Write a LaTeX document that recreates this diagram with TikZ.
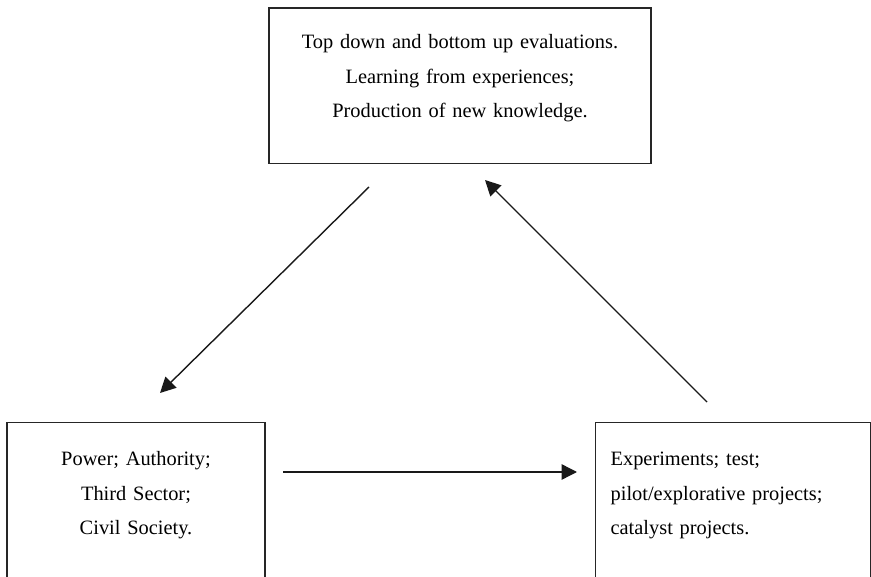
\documentclass[tikz,border=0pt]{standalone}
\usepackage{fontspec}
\setmainfont{Liberation Serif}
\usetikzlibrary{arrows.meta, positioning, calc}

\begin{document}
\begin{tikzpicture}[
        x=0.025cm, y=-0.025cm,
        box/.style={rectangle, draw=black!85, line width=0.9pt, inner ysep=0pt, font=\fontsize{14.5}{24.5}\selectfont},
        arrow/.style={-{Triangle[length=11pt, width=11pt]}, line width=1pt, black!90}
    ]
        \clip (0,0) rectangle (871,577);

        % upper box
        \node[box, anchor=north, align=center, inner xsep=0pt, text width=9.55cm,
              text height=1.0125cm, text depth=2.875cm] (eval) at (460,7.5)
            {Top down and bottom up evaluations.\\Learning from experiences;\\Production of new knowledge.};

        % lower boxes (cut by the page edge)
        \node[box, anchor=north, align=center, inner xsep=0pt, text width=6.45cm,
              text height=1.075cm, text depth=3.8cm] (power) at (136,422)
            {Power; Authority;\\Third Sector;\\Civil Society.};
        \node[box, anchor=north west, align=left, inner xsep=0.375cm, text width=6.125cm,
              text height=1.075cm, text depth=3.8cm] (exp) at (595,422)
            {Experiments; test;\\pilot/explorative projects;\\catalyst projects.};

        % arrow ends
        \coordinate (evalout) at (369,187);
        \coordinate (powerin) at (160,393);
        \coordinate (powerout) at (283,472);
        \coordinate (expin) at (577,472);
        \coordinate (expout) at (707,402);
        \coordinate (evalin) at (485,180);

        \draw[arrow] (evalout) -- (powerin);
        \draw[arrow] (powerout) -- (expin);
        \draw[arrow] (expout) -- (evalin);
    \end{tikzpicture}
\end{document}
